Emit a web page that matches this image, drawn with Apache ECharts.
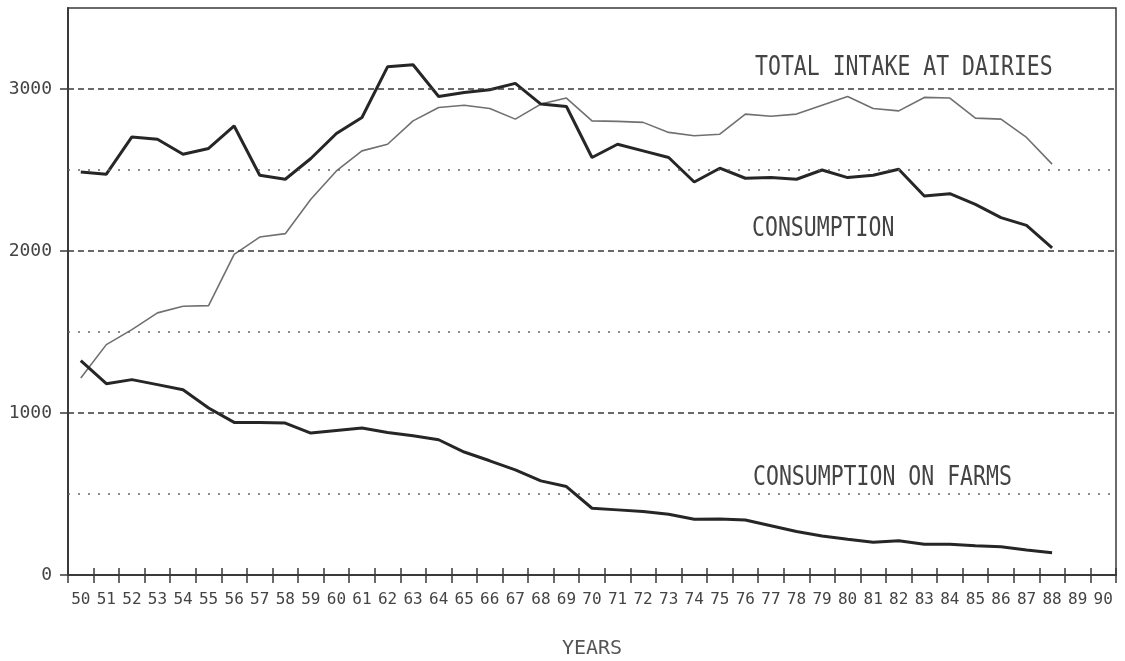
<!DOCTYPE html>
<html>
<head>
<meta charset="utf-8">
<script src="https://cdn.jsdelivr.net/npm/echarts@6/dist/echarts.min.js"></script>
<style>
  html, body { margin: 0; padding: 0; background: #fff; }
  #main { width: 1125px; height: 661px; }
</style>
</head>
<body>
<div id="main"></div>
<script>
// years 1950..1990 on the category axis
const years = ['50','51','52','53','54','55','56','57','58','59',
  '60','61','62','63','64','65','66','67','68','69',
  '70','71','72','73','74','75','76','77','78','79',
  '80','81','82','83','84','85','86','87','88','89','90'];

// values, 1950..1988
const totalIntake = [1216, 1422, 1515, 1618, 1659, 1663, 1979, 2086, 2107, 2319,
  2494, 2618, 2659, 2803, 2886, 2900, 2880, 2814, 2907, 2944,
  2803, 2800, 2794, 2732, 2711, 2721, 2845, 2832, 2845, 2900,
  2954, 2880, 2865, 2948, 2944, 2820, 2814, 2701, 2536];

const consumption = [2488, 2474, 2704, 2690, 2597, 2633, 2772, 2468, 2443, 2571,
  2725, 2824, 3137, 3150, 2954, 2979, 2995, 3035, 2907, 2892,
  2577, 2659, 2618, 2577, 2426, 2511, 2449, 2453, 2443, 2500,
  2453, 2468, 2505, 2340, 2354, 2288, 2206, 2158, 2020];

const onFarms = [1323, 1181, 1206, 1175, 1144, 1031, 942, 942, 938, 876,
  892, 907, 880, 860, 835, 759, 705, 649, 581, 546,
  412, 402, 392, 375, 344, 346, 340, 304, 268, 241,
  221, 202, 212, 190, 190, 181, 175, 155, 138];

const yTicks = [0, 1000, 2000, 3000];
const majorGrid = [1000, 2000, 3000];   // dashed
const minorGrid = [500, 1500, 2500];    // dotted

const FONT = '"DejaVu Sans Mono", monospace';
const INK = '#3a3a3a';

var chart = echarts.init(document.getElementById('main'));

// annotation text, stretched a bit vertically like the plotter lettering
function note(text, x, y) {
  return {
    type: 'text', x: x, y: y, scaleY: 1.2, silent: true,
    style: { text: text, fill: '#444', font: '21.5px ' + FONT, verticalAlign: 'middle' }
  };
}

var gridLines = majorGrid.map(function (v) {
  return { yAxis: v, lineStyle: { type: [6, 4], color: '#3a3a3a', width: 1.6 } };
}).concat(minorGrid.map(function (v) {
  return { yAxis: v, lineStyle: { type: [2, 8], color: '#666', width: 1.6 } };
}));

chart.setOption({
  animation: false,
  backgroundColor: '#fff',
  grid: {
    left: 68, right: 9, top: 8, bottom: 86,
    outerBoundsMode: 'none',
    containLabel: false,
    show: true, borderColor: INK, borderWidth: 1.5
  },
  xAxis: [{
    type: 'category',
    data: years,
    boundaryGap: true,
    name: 'YEARS',
    nameLocation: 'middle',
    nameGap: 64,
    nameTextStyle: { fontFamily: FONT, fontSize: 20, color: '#555' },
    axisLine: { lineStyle: { color: INK, width: 2 } },
    axisTick: { show: true, length: 8, lineStyle: { color: INK, width: 1.5 } },
    axisLabel: { interval: 0, margin: 17, fontFamily: FONT, fontSize: 16, color: '#444' },
    splitLine: { show: false }
  }, {
    // second copy only to draw the upward half of the crossing ticks
    type: 'category',
    data: years,
    position: 'bottom',
    boundaryGap: true,
    axisLine: { show: false },
    axisTick: { show: true, inside: true, length: 7, lineStyle: { color: INK, width: 1.5 } },
    axisLabel: { show: false },
    splitLine: { show: false }
  }],
  yAxis: {
    type: 'value',
    min: 0,
    max: 3500,
    interval: 500,
    axisLine: { show: true, lineStyle: { color: INK, width: 2 } },
    axisTick: { show: true, length: 8, customValues: yTicks, lineStyle: { color: INK, width: 1.5 } },
    axisLabel: {
      customValues: yTicks, margin: 16, fontFamily: FONT, fontSize: 18, color: '#444',
      formatter: function (v) { return String(v); }
    },
    splitLine: { show: false }
  },
  series: [{
    name: 'TOTAL INTAKE AT DAIRIES',
    type: 'line',
    data: totalIntake,
    symbol: 'none',
    lineStyle: { color: '#707070', width: 1.6 },
    markLine: {
      silent: true, symbol: 'none', animation: false,
      label: { show: false },
      data: gridLines
    }
  }, {
    name: 'CONSUMPTION',
    type: 'line',
    data: consumption,
    symbol: 'none',
    lineStyle: { color: '#262626', width: 3 }
  }, {
    name: 'CONSUMPTION ON FARMS',
    type: 'line',
    data: onFarms,
    symbol: 'none',
    lineStyle: { color: '#262626', width: 3 }
  }],
  graphic: [
    note('TOTAL INTAKE AT DAIRIES', 755, 68),
    note('CONSUMPTION', 752, 229),
    note('CONSUMPTION ON FARMS', 753, 478)
  ]
});
</script>
</body>
</html>
